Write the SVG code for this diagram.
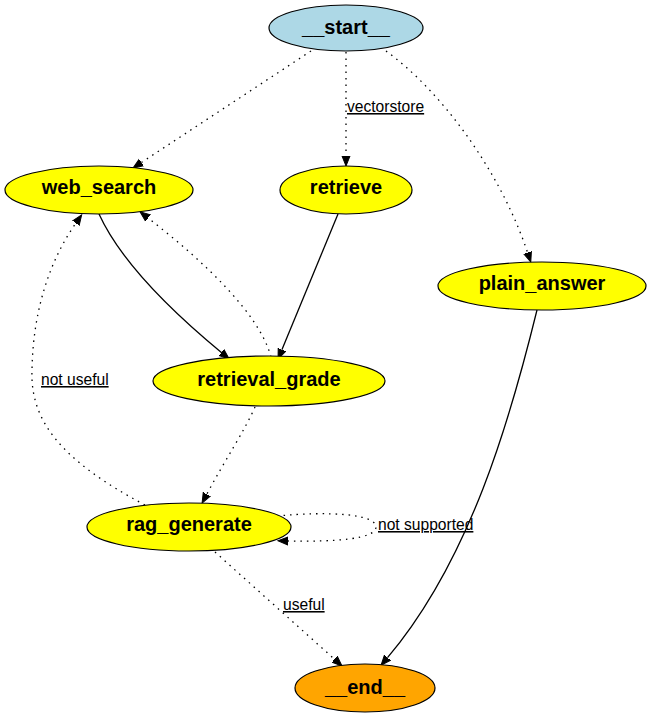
<svg xmlns="http://www.w3.org/2000/svg" width="652" height="719" viewBox="0 0 652 719">
<style>
.node ellipse{stroke:#000;stroke-width:1.2}
.node text{font-family:"Liberation Sans",Arial,sans-serif;font-weight:bold;font-size:20px;text-anchor:middle;fill:#000}
.edge{fill:none;stroke:#000;stroke-width:1.3}
.dot{stroke-dasharray:1.5,5}
.lbl{font-family:"Liberation Sans",Arial,sans-serif;font-size:15.6px;fill:#000;text-decoration:underline}
</style>
<defs>
<marker id="arr" markerUnits="userSpaceOnUse" markerWidth="12" markerHeight="10" refX="0" refY="5" orient="auto" viewBox="0 0 12 10">
<path d="M0,1 L10,5 L0,9 Z" fill="#000" stroke="#000" stroke-width="1"/>
</marker>
</defs>
<rect width="652" height="719" fill="#fff"/>
<g id="edges">
<path class="edge dot" d="M311,51 L141.4,162.5" marker-end="url(#arr)"/>
<path class="edge dot" d="M346,52 L346,156" marker-end="url(#arr)"/>
<text class="lbl" x="347" y="112">vectorstore</text>
<path class="edge dot" d="M386,51 C440,90 500,170 527.6,252.6" marker-end="url(#arr)"/>
<path class="edge" d="M99,214 C120,260 170,310 221.4,352.5" marker-end="url(#arr)"/>
<path class="edge" d="M338,214 L281.9,349.8" marker-end="url(#arr)"/>
<path class="edge dot" d="M271,357 C260,315 205,262 148,218" marker-end="url(#arr)"/>
<path class="edge dot" d="M255,407 C245,430 225,460 206.8,494.2" marker-end="url(#arr)"/>
<path class="edge dot" d="M145,505 C60,460 30,420 32,370 C33,310 50,260 75.9,223.1" marker-end="url(#arr)"/>
<text class="lbl" x="41" y="385">not useful</text>
<path class="edge dot" d="M277,516 C330,511 376,514 376,527 C376,539 335,542 288,541" marker-end="url(#arr)"/>
<text class="lbl" x="378" y="530">not supported</text>
<path class="edge dot" d="M215,552 L334.6,659.3" marker-end="url(#arr)"/>
<text class="lbl" x="283" y="610">useful</text>
<path class="edge" d="M537,310 C510,420 470,560 387.5,657.7" marker-end="url(#arr)"/>
</g>
<g id="node-start" class="node">
<ellipse cx="346" cy="28" rx="77" ry="23" fill="#add8e6"/>
<text x="346" y="34">__start__</text>
</g>
<g id="node-web_search" class="node">
<ellipse cx="99" cy="190" rx="94" ry="24" fill="#ffff00"/>
<text x="99" y="194">web_search</text>
</g>
<g id="node-retrieve" class="node">
<ellipse cx="346" cy="190" rx="66" ry="24" fill="#ffff00"/>
<text x="346" y="194">retrieve</text>
</g>
<g id="node-plain_answer" class="node">
<ellipse cx="542" cy="286" rx="104" ry="24" fill="#ffff00"/>
<text x="542" y="290">plain_answer</text>
</g>
<g id="node-retrieval_grade" class="node">
<ellipse cx="269" cy="381" rx="116" ry="25" fill="#ffff00"/>
<text x="269" y="386">retrieval_grade</text>
</g>
<g id="node-rag_generate" class="node">
<ellipse cx="189" cy="527" rx="102" ry="24" fill="#ffff00"/>
<text x="189" y="531">rag_generate</text>
</g>
<g id="node-end" class="node">
<ellipse cx="365" cy="688" rx="70" ry="24" fill="#ffa500"/>
<text x="365" y="694">__end__</text>
</g>
</svg>
